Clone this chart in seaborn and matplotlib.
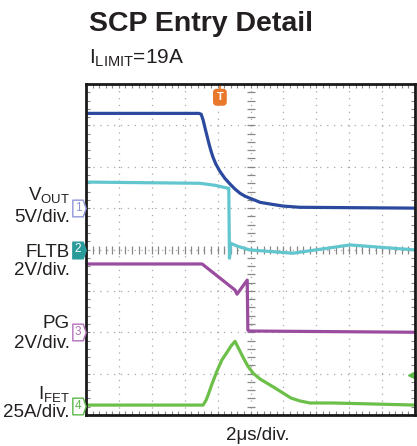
import numpy as np
import pandas as pd
import seaborn as sns
import matplotlib.pyplot as plt
from matplotlib.path import Path

# screen positions in divisions (x: 0-10 at 2us/div, y: 0-8)
vout_x = [0, 3.43, 3.50, 3.56, 3.62, 3.68, 3.74, 3.80, 3.86, 3.95, 4.07, 4.22, 4.38, 4.53,
          4.68, 4.83, 4.98, 5.14, 5.29, 5.59, 5.99, 6.50, 10.0]
vout_y = [7.29, 7.29, 7.27, 7.13, 6.93, 6.74, 6.55, 6.38, 6.23, 6.06, 5.89, 5.72, 5.58, 5.46,
          5.36, 5.29, 5.24, 5.19, 5.14, 5.10, 5.05, 5.02, 5.00]

fltb_x = [0, 3.47, 3.93, 4.32, 4.34, 4.36, 4.40, 4.60, 4.98, 6.29, 8.02, 10.0]
fltb_y = [5.63, 5.60, 5.55, 5.48, 5.48, 3.79, 4.15, 4.08, 3.99, 3.91, 4.11, 3.99]

pg_x = [0, 3.53, 4.53, 4.59, 4.90, 4.92, 4.98, 10.0]
pg_y = [3.65, 3.65, 3.02, 2.92, 3.26, 2.05, 2.03, 2.00]

ifet_x = [0, 3.56, 3.65, 3.71, 3.83, 3.98, 4.13, 4.29, 4.41, 4.53, 4.65, 4.77, 4.92, 5.08,
          5.29, 5.50, 5.75, 5.99, 6.23, 6.50, 6.81, 7.51, 8.54, 10.0]
ifet_y = [0.24, 0.24, 0.36, 0.48, 0.75, 1.06, 1.33, 1.52, 1.67, 1.78, 1.59, 1.40, 1.18, 1.01,
          0.87, 0.77, 0.65, 0.53, 0.41, 0.34, 0.29, 0.29, 0.27, 0.24]

channels = ['VOUT', 'FLTB', 'PG', 'IFET']
colors = ['#2b4a9f', '#62c6cf', '#9a4c9f', '#6cbf48']
ground_levels = [5.0, 4.0, 2.0, 0.22]
marker_edge = ['#8f93d8', '#2a9b9b', '#b46fbb', '#5cb848']

sns.set_style('white')
plt.rcParams['font.family'] = ['Liberation Sans', 'DejaVu Sans']

fig = plt.figure(figsize=(4.17, 4.46), dpi=100)
ax = fig.add_axes([86 / 417, 1 - 415 / 446, 329 / 417, 331 / 446])
ax.set_xlim(0, 10)
ax.set_ylim(0, 8)

# graticule
for gx in range(1, 10):
    ax.axvline(gx, color='#a8a8a8', lw=0.9, ls=(0, (1, 4.5)), zorder=0)
for gy in range(1, 8):
    ax.axhline(gy, color='#a8a8a8', lw=0.9, ls=(0, (1, 4.5)), zorder=0)
ticks_h = np.arange(0, 10.01, 0.2)
ticks_v = np.arange(0, 8.01, 0.2)
ax.plot(ticks_h, [4] * len(ticks_h), ls='none', marker='|', ms=6, mew=0.9, color='#888888', zorder=0)
ax.plot([5] * len(ticks_v), ticks_v, ls='none', marker='_', ms=6, mew=0.9, color='#888888', zorder=0)

ax.set_xticks(np.arange(0, 10.01, 1))
ax.set_xticks(ticks_h, minor=True)
ax.set_yticks(np.arange(0, 8.01, 1))
ax.set_yticks(ticks_v, minor=True)
ax.tick_params(which='both', direction='in', top=True, right=True, bottom=True, left=True,
               length=3, width=0.8, color='#888888', labelbottom=False, labelleft=False)
for s in ax.spines.values():
    s.set_color('#1a1a1a')
    s.set_linewidth(2)

traces = [(vout_x, vout_y), (fltb_x, fltb_y), (pg_x, pg_y), (ifet_x, ifet_y)]
for (tx, ty), c in zip(traces, colors):
    df = pd.DataFrame({'t': tx, 'v': ty})
    sns.lineplot(data=df, x='t', y='v', ax=ax, color=c, lw=2.3, sort=False, estimator=None)
ax.set_xlabel('')
ax.set_ylabel('')

# channel markers: small tag with a point on the right
tag = Path([(-0.8, -1), (0.45, -1), (0.8, 0), (0.45, 1), (-0.8, 1), (-0.8, -1)],
           [Path.MOVETO] + [Path.LINETO] * 4 + [Path.CLOSEPOLY])
ytr = ax.get_yaxis_transform()
for i, (lvl, ec) in enumerate(zip(ground_levels, marker_edge)):
    filled = i == 1
    ax.plot([-0.021], [lvl], transform=ytr, marker=tag, ms=12, mew=1,
            mfc=ec if filled else 'white', mec=ec, clip_on=False, zorder=5)
    ax.text(-0.024, lvl, str(i + 1), transform=ytr, ha='center', va='center', fontsize=8.5,
            color='white' if filled else ec, clip_on=False, zorder=6)

# trigger markers
ax.plot([4.07, 4.07], [7.95, 7.85], color='#e8782a', lw=1.2)
ax.text(4.07, 7.68, 'T', ha='center', va='center', fontsize=8, color='white', fontweight='bold',
        bbox=dict(boxstyle='round,pad=0.25', fc='#e8782a', ec='#e8782a'))
ax.plot([9.91], [0.97], marker='<', ms=6, color='#5cb848', clip_on=False)

# text
fig.text(89 / 417, 1 - 31 / 446, 'SCP Entry Detail', fontsize=20.5, fontweight='bold',
         color='#231f20', va='baseline')
fig.text(89 / 417, 1 - 64 / 446, r'$\mathregular{I_{LIMIT}}$=19A', fontsize=15,
         color='#231f20', va='baseline')

labels = [(r'$\mathregular{V_{OUT}}$', 200), ('5V/div.', 222), ('FLTB', 257), ('2V/div.', 275),
          ('PG', 328), ('2V/div.', 348), (r'$\mathregular{I_{FET}}$', 399), ('25A/div.', 417)]
for txt, yb in labels:
    fig.text(70 / 417, 1 - yb / 446, txt, fontsize=13.5, color='#231f20', ha='right', va='baseline')

fig.text(258 / 417, 1 - 440 / 446, '2μs/div.', fontsize=13.5, color='#231f20', ha='center', va='baseline')

fig.savefig('out.png', dpi=100)
